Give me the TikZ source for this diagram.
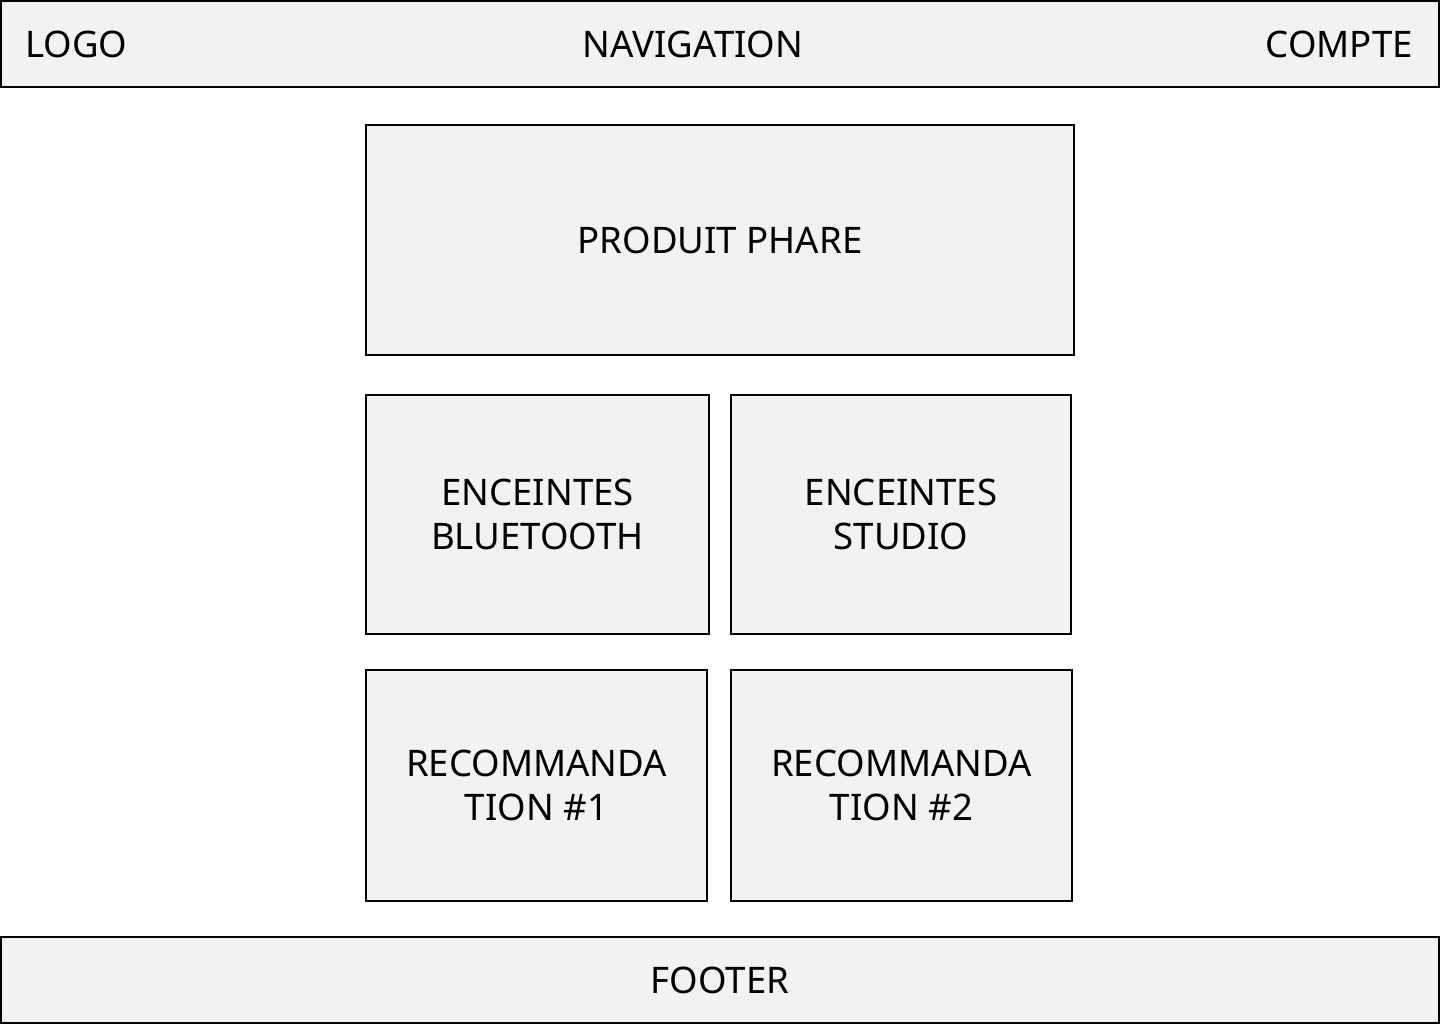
\documentclass[tikz,border=0pt]{standalone}
\usepackage{fontspec}
\setmainfont{Noto Sans}
\usetikzlibrary{positioning}
\definecolor{boxgray}{HTML}{F2F2F2}

\begin{document}
\begin{tikzpicture}[x=0.025cm, y=-0.025cm, node distance = 20mm, auto]
    \tikzstyle{box} = [rectangle, draw, fill=boxgray, line width=1.4pt, text centered, align=center, inner sep=0pt, font=\fontsize{26}{31.3}\selectfont]
    \tikzstyle{label} = [inner sep=0pt, font=\fontsize{26}{31.3}\selectfont]

    \useasboundingbox (0,0) rectangle (1440,1024);

    \node [box, minimum width=35.95cm, minimum height=2.15cm] (header) at (720,44) {};
    \node [label, anchor=west] (logo) at (25,44) {LOGO};
    \node [label] (nav) at (693,44) {NAVIGATION};
    \node [label, anchor=east] (compte) at (1413,44) {COMPTE};

    \node [box, minimum width=17.7cm, minimum height=5.75cm] (phare) at (720,240) {PRODUIT PHARE};

    \node [box, minimum width=8.575cm, minimum height=5.975cm] (bluetooth) at (537.5,514.5) {ENCEINTES\\BLUETOOTH};
    \node [box, minimum width=8.5cm, minimum height=5.975cm] (studio) at (901,514.5) {ENCEINTES\\STUDIO};

    \node [box, minimum width=8.525cm, minimum height=5.775cm] (reco1) at (536.5,785.5) {RECOMMANDA\\TION \#1};
    \node [box, minimum width=8.525cm, minimum height=5.775cm] (reco2) at (901.5,785.5) {RECOMMANDA\\TION \#2};

    \node [box, minimum width=35.95cm, minimum height=2.15cm] (footer) at (720,980) {FOOTER};
  \end{tikzpicture}
\end{document}
